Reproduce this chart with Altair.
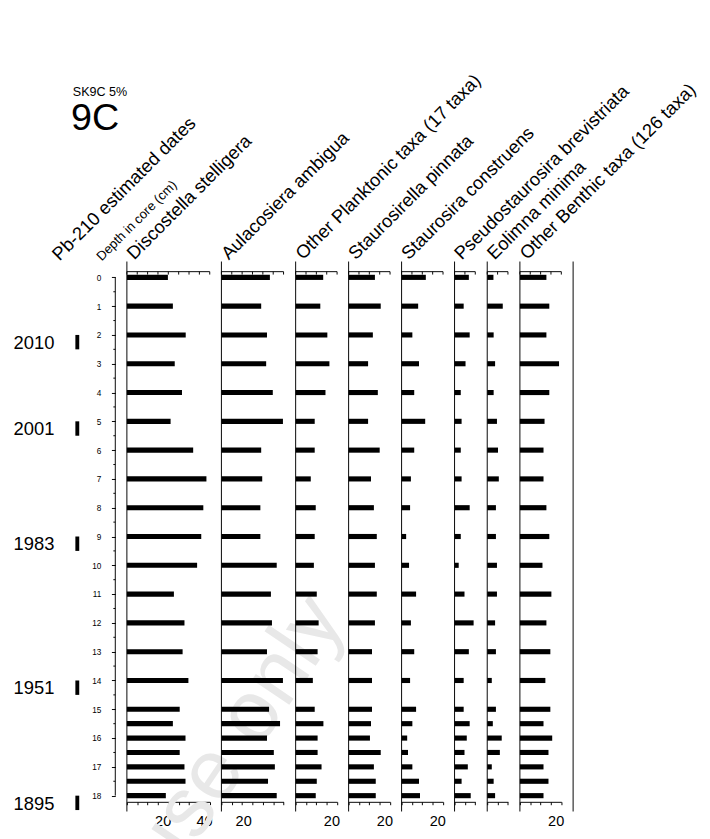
import altair as alt
import pandas as pd

# ---------------- data ----------------
depths = [0, 1, 2, 3, 4, 5, 6, 7, 8, 9, 10, 11, 12, 13, 14, 15, 15.5, 16, 16.5, 17, 17.5, 18]

taxa = [
    "Discostella stelligera",
    "Aulacosiera ambigua",
    "Other Planktonic taxa (17 taxa)",
    "Staurosirella pinnata",
    "Staurosira construens",
    "Pseudostaurosira brevistriata",
    "Eolimna minima",
    "Other Benthic taxa (126 taxa)",
]
axis_max = [40, 30, 20, 20, 20, 10, 10, 20]

discostella = [19.8, 22.2, 28.4, 23.1, 26.6, 21.1, 32.0, 38.4, 36.9, 35.9, 33.9, 22.7, 27.8, 26.9, 29.7, 25.5, 22.2, 28.3, 25.5, 27.8, 28.3, 18.8]
aulacoseira = [23.4, 19.2, 22.0, 21.6, 24.8, 29.7, 19.2, 19.7, 18.8, 18.8, 26.7, 23.9, 24.4, 22.0, 29.7, 23.0, 28.3, 22.0, 25.3, 25.8, 22.5, 26.7]
other_planktonic = [13.3, 11.9, 15.3, 16.3, 14.4, 9.2, 9.2, 7.3, 9.7, 9.2, 8.8, 10.2, 11.1, 10.6, 8.3, 9.2, 13.4, 10.6, 10.6, 12.5, 10.2, 9.7]
staurosirella = [12.7, 15.5, 11.7, 9.4, 14.1, 9.4, 15.0, 10.8, 12.2, 13.6, 12.7, 13.6, 12.7, 11.3, 11.3, 11.3, 10.8, 10.3, 15.5, 12.2, 13.1, 13.1]
staurosira = [11.7, 8.0, 5.2, 8.4, 6.1, 11.4, 6.1, 4.5, 4.1, 2.2, 3.6, 7.0, 4.5, 6.1, 4.1, 7.0, 5.2, 2.7, 3.1, 5.2, 8.4, 8.9]
pseudostaurosira = [6.9, 4.4, 7.3, 5.3, 3.0, 3.4, 3.0, 3.4, 7.3, 3.0, 2.0, 4.8, 9.2, 6.9, 4.4, 4.4, 7.3, 5.9, 4.8, 6.4, 3.4, 7.8]
eolimna = [3.0, 7.5, 3.1, 3.8, 3.1, 4.7, 5.2, 5.6, 4.2, 4.2, 4.7, 4.7, 3.8, 4.2, 2.2, 4.2, 2.7, 7.0, 6.1, 2.2, 3.1, 3.8]
other_benthic = [12.8, 14.2, 12.8, 18.9, 14.2, 11.9, 11.4, 11.4, 12.8, 14.2, 10.9, 15.2, 12.8, 14.7, 12.3, 14.7, 11.4, 15.6, 13.8, 11.4, 13.8, 11.4]

series = [discostella, aulacoseira, other_planktonic, staurosirella,
          staurosira, pseudostaurosira, eolimna, other_benthic]

date_years = ["2010", "2001", "1983", "1951", "1895"]
date_depths = [2, 5, 9, 14, 18]

depth_major = list(range(0, 19))
depth_minor = [d + 0.5 for d in range(0, 18)]

subtitle = "SK9C 5%"
core_label = "9C"
date_title = "Pb-210 estimated dates"
depth_title = "Depth in core (cm)"
watermark = "use only"

# ---------------- layout ----------------
FONT = "Liberation Sans"
PX = 2.143          # pixels per % unit
H = 569             # panel height
YDOM = [-0.55, 18.55]
SPACING = 11.8
TDX, TDY = 7.5, -1  # title anchor relative to panel top-left
LABEL_SHIFT = [2.5, -12, 2.5, 2.5, 2.5, 2.5, 2.5, 2.5]


def yscale():
    return alt.Scale(domain=YDOM, reverse=True, nice=False, zero=False, padding=0)


def text_layer(txt, x, y, size, angle=0, align="left", baseline="alphabetic", color="black"):
    kw = dict(align=align, baseline=baseline, fontSize=size, font=FONT, color=color)
    if angle:
        kw["angle"] = angle
    return alt.Chart(pd.DataFrame({"t": [txt]})).mark_text(**kw).encode(
        x=alt.value(x), y=alt.value(y), text="t:N")


def depth_axis():
    return alt.Axis(orient="left", offset=12, values=depth_major, tickSize=4,
                    domain=False, labelFontSize=8.5, labelPadding=11, labelFont=FONT,
                    labelColor="black", tickColor="black", grid=False, title=None)


def left_side_layers():
    dates_df = pd.DataFrame({
        "year": date_years,
        "d0": date_depths,
        "d1": [d + 0.5 for d in date_depths],
        "mid": [d + 0.25 for d in date_depths],
    })
    wm = text_layer(watermark, 206, 356, 88, angle=304, align="right", baseline="middle", color="#e8e8e8")
    year_txt = alt.Chart(dates_df).mark_text(align="right", baseline="middle", fontSize=19, font=FONT, dy=1).encode(
        x=alt.value(-75), y=alt.Y("mid:Q", scale=yscale(), axis=depth_axis(), title=None), text="year:N")
    markers = alt.Chart(dates_df).mark_rect(color="black").encode(
        x=alt.value(-53.3), x2=alt.value(-49.3),
        y=alt.Y("d0:Q", scale=yscale(), axis=depth_axis(), title=None), y2="d1:Q")
    rng = pd.DataFrame({"d0": [depth_major[0]], "d1": [depth_major[-1]]})
    depth_line = alt.Chart(rng).mark_rule(color="black").encode(
        x=alt.value(-12), y=alt.Y("d0:Q", scale=yscale(), axis=depth_axis(), title=None), y2="d1:Q")
    minor = alt.Chart(pd.DataFrame({"m": depth_minor})).mark_rule(color="black").encode(
        x=alt.value(-14), x2=alt.value(-12),
        y=alt.Y("m:Q", scale=yscale(), axis=depth_axis(), title=None))
    return [
        wm, year_txt, markers, depth_line, minor,
        text_layer(date_title, -69.7, 0, 19, angle=315),
        text_layer(depth_title, -26, 0, 13.5, angle=315),
        text_layer(subtitle, -56, -171, 13),
        text_layer(core_label, -57.7, -136, 39),
    ]


def panel(i):
    name, vals, dmax = taxa[i], series[i], axis_max[i]
    W = dmax * PX
    df = pd.DataFrame({"depth": depths, "v": vals})
    xsc = alt.Scale(domain=[0, dmax], nice=False, zero=True)
    ticks = list(range(0, dmax + 1, 5))

    def xaxis():
        return alt.Axis(orient="bottom", offset=-10, values=ticks, tickSize=3,
                        labelExpr="datum.value > 0 && datum.value % 20 === 0 ? datum.label : ''",
                        labelFontSize=15, labelPadding=10, labelFont=FONT, labelColor="black",
                        labelAlign="right", labelOffset=LABEL_SHIFT[i], labelFlush=False,
                        labelOverlap=False, domainColor="black", tickColor="black",
                        grid=False, title=None)

    yaxis = depth_axis() if i == 0 else None
    bars = alt.Chart(df).mark_rule(strokeWidth=5.3, color="black", strokeCap="butt").encode(
        x=alt.X("v:Q", scale=xsc, title=None, axis=xaxis()),
        x2=alt.datum(0),
        y=alt.Y("depth:Q", scale=yscale(), title=None, axis=yaxis),
    )
    top_line = alt.Chart(pd.DataFrame({"a": [0], "b": [dmax]})).mark_rule(color="black").encode(
        x=alt.X("a:Q", scale=xsc, axis=xaxis(), title=None), x2="b:Q", y=alt.value(10.5))
    top_ticks = alt.Chart(pd.DataFrame({"t": ticks})).mark_rule(color="black").encode(
        x=alt.X("t:Q", scale=xsc, axis=xaxis(), title=None), y=alt.value(10.5), y2=alt.value(13.5))
    frame = alt.Chart(pd.DataFrame({"k": [1]})).mark_rule(color="black").encode(
        x=alt.value(0), y=alt.value(0), y2=alt.value(H))
    layers = [bars, top_line, top_ticks, frame, text_layer(name, TDX, TDY, 19, angle=315)]
    if i == 0:
        layers = left_side_layers() + layers
    if i == len(taxa) - 1:
        closing = alt.Chart(pd.DataFrame({"k": [1]})).mark_rule(color="black").encode(
            x=alt.value(W + SPACING + 0.4), y=alt.value(0), y2=alt.value(H))
        layers.append(closing)
    return alt.layer(*layers).properties(width=W, height=H)


chart = alt.hconcat(*[panel(i) for i in range(len(taxa))],
                    spacing=SPACING, bounds="flush").properties(
    padding={"left": 5, "top": 49.7, "right": 2, "bottom": 2}).configure_view(
    stroke=None).configure_scale(continuousPadding=0)

chart.save("out.html", embed_options={"renderer": "svg", "actions": False})
